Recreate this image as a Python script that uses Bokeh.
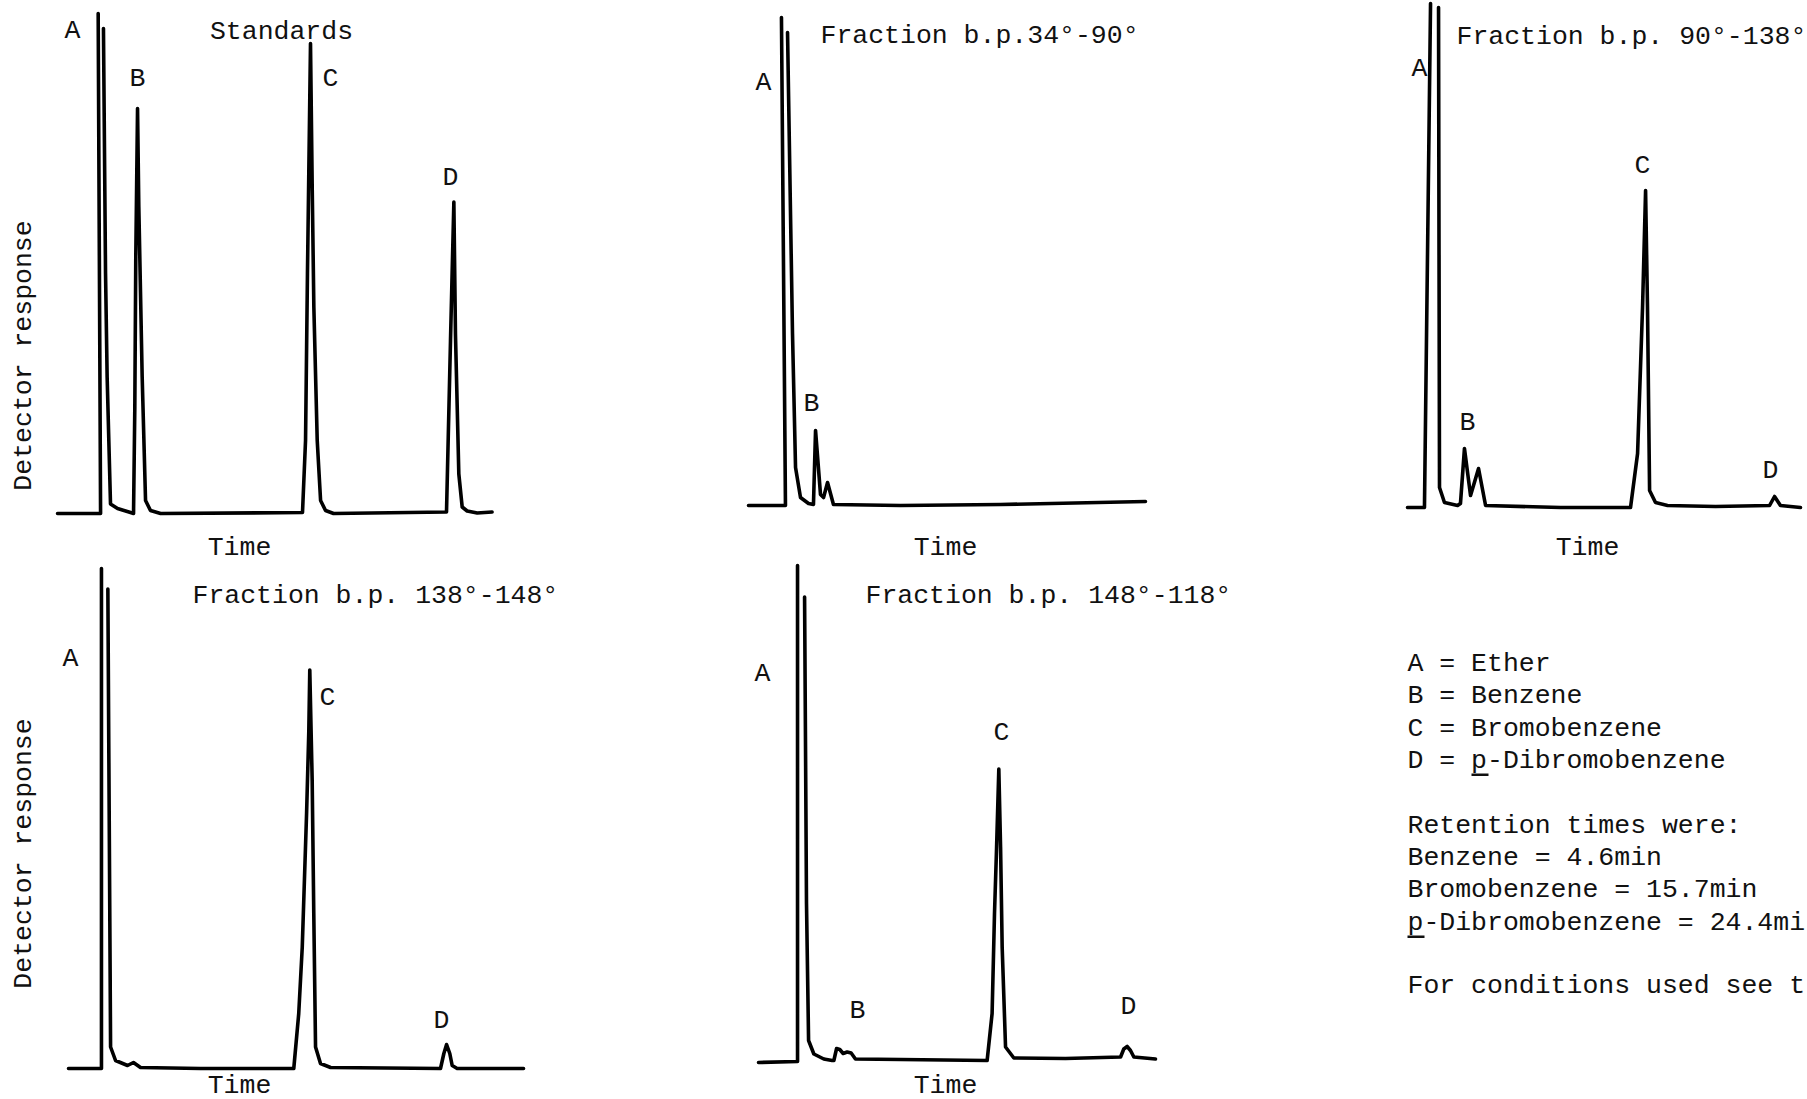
import math
from bokeh.plotting import figure
from bokeh.models import Range1d, Label, BoxAnnotation
from bokeh.embed import file_html
from bokeh.resources import INLINE

nan = float("nan")

# ---------------- data: time after injection (min) and detector response (% of full scale)
# NaN = pen lift where the ether peak (A) ran off scale
std_time = [-0.06, 2.63, 2.48, nan, 2.81, 2.94, 3.04, 3.25, 3.69, 4.5, 4.69, 4.77, 4.83, 4.94, 5.02, 5.23,
            5.44, 5.75, 6.38, 15.25, 15.44, 15.56, 15.75, 15.86, 15.96, 16.17, 16.38, 16.69, 17.19,
            24.25, 24.5, 24.71, 24.81, 25.02, 25.23, 25.54, 26.17, 27.1]
std_resp = [0, 0, 100, nan, 97, 48, 27.3, 1.9, 1.0, 0.2, 0, 21.3, 51.3, 81, 61.3, 27.3,
            2.6, 0.6, 0, 0.2, 14.6, 48, 94, 64.6, 41.2, 14.6, 2.6, 0.6, 0,
            0.3, 34.6, 62.3, 35.9, 7.9, 1.3, 0.5, 0.1, 0.3]

f34_time = [0, 2.31, 2.06, nan, 2.44, 2.75, 2.94, 3.25, 3.75, 4.06, 4.19, 4.5, 4.69, 4.94, 5.31,
            9.5, 15.75, 24.81]
f34_resp = [0, 0, 97.6, nan, 94.6, 34.4, 7.6, 1.6, 0.4, 0.2, 15, 2.2, 1.6, 4.6, 0.2,
            0, 0.2, 0.8]

f90_time = [0, 1.06, 1.44, nan, 1.94, 2.0, 2.31, 3.13, 3.31, 3.56, 3.94, 4.44, 4.88, 9.56,
            13.94, 14.38, 14.69, 14.88, 15.0, 15.13, 15.5, 16.25, 19.25, 22.63, 22.94, 23.31, 24.56]
f90_resp = [0, 0, 100.8, nan, 100, 4, 1, 0.4, 0.8, 11.8, 2.4, 7.8, 0.4, 0,
            0, 10.8, 40, 63.4, 40, 3.4, 1, 0.4, 0.2, 0.4, 2.2, 0.4, 0]

f138_time = [0, 2.06, 2.06, nan, 2.46, 2.63, 2.94, 3.69, 4.06, 4.5, 8.25,
             14.08, 14.39, 14.61, 14.88, 15.02, 15.08, 15.23, 15.33, 15.44, 15.75, 16.38,
             23.25, 23.46, 23.63, 23.83, 23.98, 24.29, 28.44]
f138_resp = [0, 0, 100, nan, 95.9, 4.3, 1.6, 0.6, 1.2, 0.2, 0,
             0, 11, 24.3, 51, 67.6, 79.7, 57.6, 31, 4.3, 1, 0.2,
             0, 3, 4.8, 3, 0.6, 0, 0]

f148_time = [0, 2.44, 2.44, nan, 2.88, 3.0, 3.13, 3.46, 4.08, 4.6, 4.71, 4.88, 5.08, 5.29, 5.54,
             5.79, 6.06, 8.88, 14.29, 14.6, 14.75, 14.88, 15.02, 15.13, 15.23, 15.44, 15.96,
             19.19, 22.63, 22.83, 23.04, 23.25, 23.46, 24.81]
f148_resp = [0, 0.2, 99.4, nan, 93.1, 31.8, 4.4, 1.7, 0.7, 0.4, 0.4, 2.8, 2.6, 1.8, 2.1,
             1.9, 0.7, 0.6, 0.4, 9.8, 29.8, 43, 58.7, 43, 23, 3.1, 0.9,
             0.8, 1.1, 2.7, 3.2, 2.4, 1.1, 0.7]

titles = ["Standards", "Fraction b.p.34°-90°", "Fraction b.p. 90°-138°",
          "Fraction b.p. 138°-148°", "Fraction b.p. 148°-118°"]
legend_lines = ["A = Ether", "B = Benzene", "C = Bromobenzene", "D = p-Dibromobenzene",
                "Retention times were:", "Benzene = 4.6min", "Bromobenzene = 15.7min",
                "p-Dibromobenzene = 24.4mi", "For conditions used see t"]

# ---------------- layout / style
W, H = 1807, 1099
OFF = 0
PX_PER_MIN = 16.0
PX_PER_PCT = 5.0
FONT = "Liberation Mono"
FS = "26.5px"
TXT = "#111111"
INK = "#000000"

panels = [
    ("p1", std_time, std_resp, (58, 513)),
    ("p2", f34_time, f34_resp, (748, 505)),
    ("p3", f90_time, f90_resp, (1407, 507)),
    ("p4", f138_time, f138_resp, (68, 1068)),
    ("p5", f148_time, f148_resp, (758, 1062)),
]

p = figure(width=W, height=H, output_backend="svg", toolbar_location=None,
           x_range=Range1d(OFF, OFF + W), y_range=Range1d(OFF + H, OFF),
           x_axis_location=None, y_axis_location=None, min_border=0,
           background_fill_color="white", border_fill_color="white",
           outline_line_color=None, title=None)
p.grid.visible = False

xr, yr = {}, {}
for key, t, r, (x0, y0) in panels:
    t0 = (OFF - x0) / PX_PER_MIN
    r0 = (y0 - (OFF + H)) / PX_PER_PCT
    xr[key] = Range1d(t0, t0 + W / PX_PER_MIN)
    yr[key] = Range1d(r0, r0 + H / PX_PER_PCT)
p.extra_x_ranges = xr
p.extra_y_ranges = yr

for key, t, r, _ in panels:
    p.line(t, r, x_range_name=key, y_range_name=key, line_color=INK, line_width=3.6,
           line_join="round", line_cap="round")


def lab(text, x, y, align="center", angle=0.0):
    p.add_layout(Label(x=x, y=y, text=text, text_font=FONT, text_font_size=FS,
                       text_color=TXT, text_align=align, text_baseline="middle", angle=angle))


# peak letters (page px)
for txt, x, y in [("A", 72, 30), ("B", 137, 78), ("C", 330, 78), ("D", 450, 177),
                  ("A", 763, 82), ("B", 811, 403),
                  ("A", 1419, 68), ("B", 1467, 422), ("C", 1642, 165), ("D", 1770, 470),
                  ("A", 70, 658), ("C", 327, 697), ("D", 441, 1020),
                  ("A", 762, 673), ("B", 857, 1010), ("C", 1001, 732), ("D", 1128, 1006)]:
    lab(txt, x, y)

lab(titles[0], 281, 31)
lab(titles[1], 820, 35, align="left")
lab(titles[2], 1456, 36, align="left")
lab(titles[3], 192, 595, align="left")
lab(titles[4], 865, 595, align="left")

for x, y in [(239, 547), (945, 547), (1587, 547), (239, 1085), (945, 1085)]:
    lab("Time", x, y)

lab("Detector response", 23, 355, angle=math.pi / 2)
lab("Detector response", 23, 853, angle=math.pi / 2)

leg_y = [663, 695, 728, 760, 825, 857, 889, 922, 985]
for txt, y in zip(legend_lines, leg_y):
    lab(txt, 1407, y, align="left")

# underlined "p" (typewriter underscore)
for (l, rgt, y) in [(1471, 1488, 773), (1407, 1424, 935)]:
    p.add_layout(BoxAnnotation(left=l, right=rgt, top=y, bottom=y + 2.5,
                               fill_color=TXT, fill_alpha=1, line_color=None))

open("out.html", "w").write(file_html(p, INLINE))
